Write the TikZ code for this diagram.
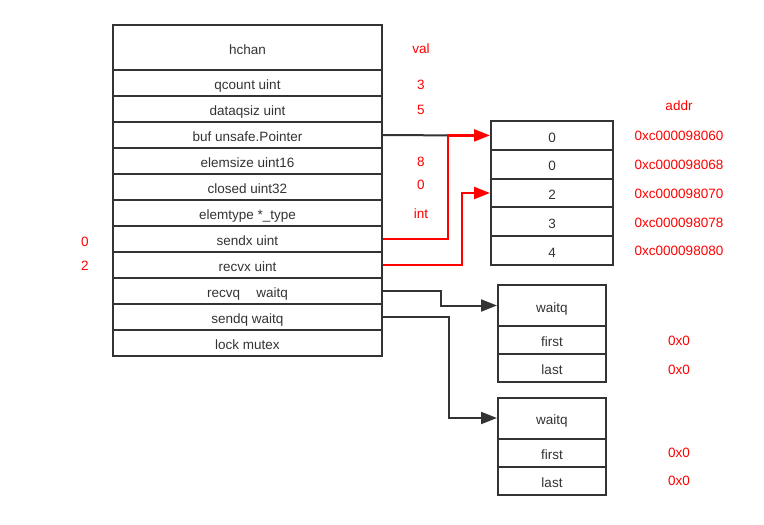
\documentclass[tikz,border=0pt]{standalone}
\usepackage{fontspec}
\setmainfont{Liberation Sans}
\usetikzlibrary{arrows.meta}
\definecolor{ink}{HTML}{333333}
\definecolor{alert}{HTML}{FF0000}

\begin{document}
\begin{tikzpicture}[x=1pt, y=-1pt,
        cell/.style={draw=ink, line width=2pt, text=ink, inner sep=0pt,
            text height=13.5pt, text depth=0pt,
            font=\fontsize{13.5}{15}\selectfont},
        field/.style={cell, minimum width=269pt, minimum height=26pt},
        slot/.style={cell, minimum width=122pt, minimum height=28.8pt},
        qbox/.style={cell, minimum width=108pt, minimum height=28pt},
        note/.style={text=alert, inner sep=0pt, font=\fontsize{13.5}{15}\selectfont},
        wire/.style={draw=ink, line width=2pt},
        hot/.style={draw=alert, line width=2.2pt},
        >={Triangle[length=16pt, width=12pt]}]
        \useasboundingbox (0,0) rectangle (764,525);

        % hchan struct
        \node[field, minimum height=45pt] (hchan) at (247.5,47.5) {hchan};
        \node[field] (qcount) at (247.5,83) {qcount uint};
        \node[field] (dataqsiz) at (247.5,109) {dataqsiz uint};
        \node[field] (buf) at (247.5,135) {buf unsafe.Pointer};
        \node[field] (elemsize) at (247.5,161) {elemsize uint16};
        \node[field] (closed) at (247.5,187) {closed uint32};
        \node[field] (elemtype) at (247.5,213) {elemtype *\_type};
        \node[field] (sendx) at (247.5,239) {sendx uint};
        \node[field] (recvx) at (247.5,265) {recvx uint};
        \node[field] (recvq) at (247.5,291) {recvq\hspace{1.2em}waitq};
        \node[field] (sendq) at (247.5,317) {sendq waitq};
        \node[field] (lock) at (247.5,343) {lock mutex};

        % values of the fields
        \node[note] (valhead) at (421,49) {val};
        \node[note] (valqcount) at (421,85) {3};
        \node[note] (valdataqsiz) at (421,110) {5};
        \node[note] (valelemsize) at (421,162) {8};
        \node[note] (valclosed) at (421,185) {0};
        \node[note] (valelemtype) at (421,214) {int};
        \node[note] (valsendx) at (85,242) {0};
        \node[note] (valrecvx) at (85,266) {2};

        % ring buffer
        \node[slot] (slot0) at (552,135.4) {0};
        \node[slot] (slot1) at (552,164.2) {0};
        \node[slot] (slot2) at (552,193) {2};
        \node[slot] (slot3) at (552,221.8) {3};
        \node[slot] (slot4) at (552,250.6) {4};

        % addresses
        \node[note] (addrhead) at (679,106) {addr};
        \node[note] (addr0) at (679,136) {0xc000098060};
        \node[note] (addr1) at (679,165) {0xc000098068};
        \node[note] (addr2) at (679,194) {0xc000098070};
        \node[note] (addr3) at (679,223) {0xc000098078};
        \node[note] (addr4) at (679,251) {0xc000098080};

        % wait queues
        \node[qbox, minimum height=41pt] (recvqhead) at (552,305.5) {waitq};
        \node[qbox] (recvqfirst) at (552,340) {first};
        \node[qbox] (recvqlast) at (552,368) {last};
        \node[qbox, minimum height=41pt] (sendqhead) at (552,418) {waitq};
        \node[qbox] (sendqfirst) at (552,453) {first};
        \node[qbox] (sendqlast) at (552,480.5) {last};

        \node[note] (valrecvqfirst) at (679,341) {0x0};
        \node[note] (valrecvqlast) at (679,370) {0x0};
        \node[note] (valsendqfirst) at (679,453) {0x0};
        \node[note] (valsendqlast) at (679,481) {0x0};

        % pointers
        \coordinate (bufjoin) at (448,135.4);
        \draw[wire] (buf.east) -- (bufjoin);
        \draw[hot, ->] (sendx.east) -| (bufjoin) -- (slot0.west);
        \draw[hot, ->] (recvx.east) -- ++(79,0) |- (slot2.west);
        \draw[wire, ->] (recvq.east) -- ++(58,0) |- (recvqhead.west);
        \draw[wire, ->] (sendq.east) -- ++(66,0) |- (sendqhead.west);
    \end{tikzpicture}
\end{document}
